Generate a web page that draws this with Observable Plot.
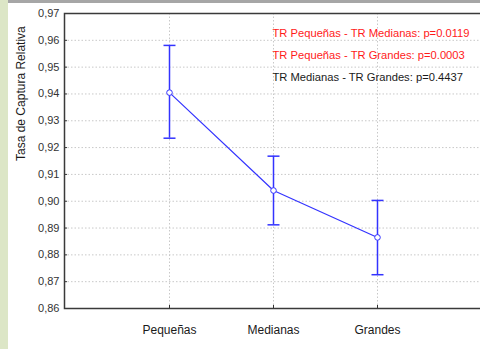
<!DOCTYPE html>
<html>
<head>
<meta charset="utf-8">
<script src="https://cdn.jsdelivr.net/npm/d3@7"></script>
<script src="https://cdn.jsdelivr.net/npm/@observablehq/plot@0.6"></script>
<style>
  html, body { margin: 0; padding: 0; background: #ffffff; }
  #wrap { position: relative; width: 480px; height: 349px; overflow: hidden; background: #ffffff; }
  #strip { position: absolute; left: 0; top: 0; width: 8px; height: 349px; background: #dce6c6; }
  #bar { position: absolute; left: 8px; top: 0; width: 472px; height: 3px; background: #a6a6a6; }
  #chart { position: absolute; left: 0; top: 0; }
  svg { font-family: "Liberation Sans", Arial, sans-serif; }
</style>
</head>
<body>
<div id="wrap"><div id="strip"></div><div id="bar"></div><div id="chart"></div></div>
<script>
// Data
const categories = ["Pequeñas", "Medianas", "Grandes"];
const means = [0.9405, 0.9040, 0.8865];
const lowers = [0.9235, 0.8912, 0.8726];
const uppers = [0.9581, 0.9168, 0.9003];
const yTicks = [0.86, 0.87, 0.88, 0.89, 0.90, 0.91, 0.92, 0.93, 0.94, 0.95, 0.96, 0.97];
const yDomain = [0.86, 0.97];
const yLabel = "Tasa de Captura Relativa";
const notes = [
  "TR Pequeñas - TR Medianas: p=0.0119",
  "TR Pequeñas - TR Grandes: p=0.0003",
  "TR Medianas - TR Grandes: p=0.4437"
];
const noteColors = ["#ff1a1a", "#ff1a1a", "#1a1a1a"];

const data = categories.map((c, i) => ({cat: c, mean: means[i], lo: lowers[i], hi: uppers[i]}));
const fmt = v => d3.format(".2f")(v).replace(".", ",");
const blue = "#3333ff";
const capSymbol = {draw(ctx) { ctx.moveTo(-6, 0); ctx.lineTo(6, 0); }};

const noteMarks = notes.map((t, i) => Plot.text([t], {
  frameAnchor: "top-left", dx: 208, dy: 20 + i * 22,
  text: d => d, textAnchor: "start", lineAnchor: "middle",
  fill: noteColors[i], fontSize: 11.2
}));

const chart = Plot.plot({
  width: 480,
  height: 349,
  marginLeft: 64,
  marginRight: -2,
  marginTop: 13,
  marginBottom: 41,
  style: {background: "transparent", fontFamily: "Liberation Sans, Arial, sans-serif", overflow: "hidden"},
  x: {type: "point", domain: categories, padding: 1},
  y: {domain: yDomain},
  marks: [
    // dotted grid
    Plot.ruleY(yTicks, {stroke: "#c8c8c8", strokeDasharray: "1.5,2", strokeWidth: 1}),
    Plot.ruleX(categories, {stroke: "#c8c8c8", strokeDasharray: "1.5,2", strokeWidth: 1}),
    // inner tick marks
    Plot.ruleY(yTicks, {stroke: "#333", strokeWidth: 1, insetRight: 415}),
    Plot.ruleX(categories, {stroke: "#333", strokeWidth: 1, insetTop: 292}),
    // frame
    Plot.frame({stroke: "#3a3a3a", strokeWidth: 1.5}),
    // axes
    Plot.axisY(yTicks, {tickSize: 0, tickPadding: 5, tickFormat: fmt, fontSize: 11, fill: "#333", label: null}),
    Plot.axisX({tickSize: 0, tickPadding: 17, fontSize: 12, fill: "#1a1a1a", label: null}),
    Plot.text([yLabel], {frameAnchor: "left", dx: -43, rotate: -90, text: d => d, fontSize: 12, fill: "#1a1a1a"}),
    // error bars
    Plot.ruleX(data, {x: "cat", y1: "lo", y2: "hi", stroke: blue, strokeWidth: 1.5}),
    Plot.dot(data, {x: "cat", y: "hi", symbol: capSymbol, stroke: blue, strokeWidth: 1.5}),
    Plot.dot(data, {x: "cat", y: "lo", symbol: capSymbol, stroke: blue, strokeWidth: 1.5}),
    // mean line and points
    Plot.line(data, {x: "cat", y: "mean", stroke: blue, strokeWidth: 1.2}),
    Plot.dot(data, {x: "cat", y: "mean", r: 2.8, fill: "white", stroke: blue, strokeWidth: 1}),
    ...noteMarks
  ]
});
document.getElementById("chart").appendChild(chart);
</script>
</body>
</html>
